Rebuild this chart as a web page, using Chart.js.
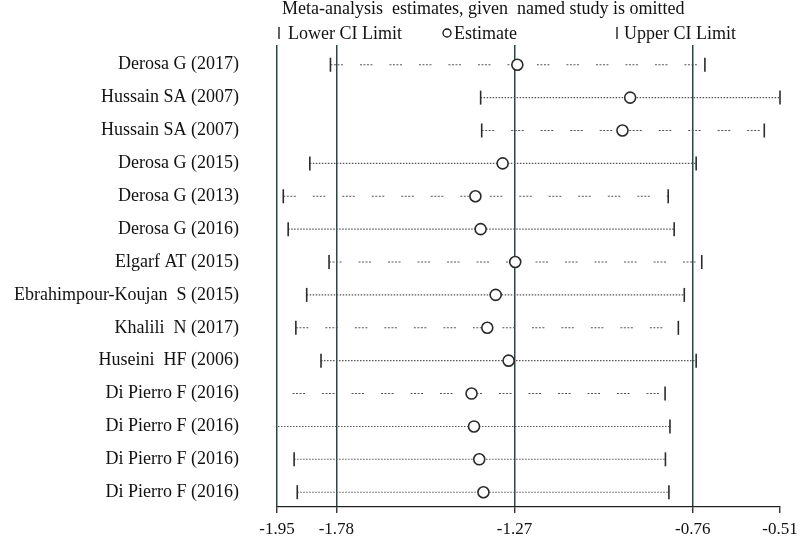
<!DOCTYPE html>
<html>
<head>
<meta charset="utf-8">
<script src="https://cdn.jsdelivr.net/npm/chart.js@4/dist/chart.umd.min.js"></script>
<style>
  html, body { margin: 0; padding: 0; background: #fff; }
  #wrap { width: 800px; height: 536px; }
</style>
</head>
<body>
<div id="wrap"><canvas id="grafico"></canvas></div>
<script>
const studies = [
    "Derosa G (2017)", "Hussain SA (2007)", "Hussain SA (2007)", "Derosa G (2015)",
    "Derosa G (2013)", "Derosa G (2016)", "Elgarf AT (2015)", "Ebrahimpour-Koujan  S (2015)",
    "Khalili  N (2017)", "Huseini  HF (2006)", "Di Pierro F (2016)", "Di Pierro F (2016)",
    "Di Pierro F (2016)", "Di Pierro F (2016)"
];
const lowerCI   = [-1.797, -1.367, -1.364, -1.856, -1.932, -1.918, -1.801, -1.865, -1.896, -1.824, -1.99, -1.99, -1.901, -1.892];
const estimates = [-1.262, -0.939, -0.961, -1.304, -1.382, -1.367, -1.268, -1.324, -1.348, -1.287, -1.393, -1.386, -1.371, -1.359];
const upperCI   = [-0.725, -0.510, -0.555, -0.750, -0.830, -0.813, -0.734, -0.784, -0.801, -0.750, -0.839, -0.825, -0.838, -0.828];
const xTicks = [-1.95, -1.78, -1.27, -0.76, -0.51];

const dashedRows = [0, 2, 4, 6, 8, 10];
const serif = "'Liberation Serif', 'DejaVu Serif', serif";

function construirDatasets() {
    const sets = [];
    // estimativas (desenhadas por cima)
    sets.push({
        type: 'scatter',
        data: estimates.map((v, i) => ({ x: v, y: i + 1 })),
        pointStyle: 'circle',
        pointRadius: 5.5,
        pointBorderWidth: 1.6,
        pointBorderColor: '#2b2b2b',
        pointBackgroundColor: '#ffffff',
        showLine: false
    });
    // marcas dos limites
    const marcas = [];
    for (let i = 0; i < studies.length; i++) {
        if (lowerCI[i] >= xTicks[0]) marcas.push({ x: lowerCI[i], y: i + 1 });
        marcas.push({ x: upperCI[i], y: i + 1 });
    }
    sets.push({
        type: 'scatter',
        data: marcas,
        pointStyle: 'line',
        rotation: 90,
        pointRadius: 7,
        pointBorderWidth: 1.6,
        pointBorderColor: '#2b2b2b',
        showLine: false,
        clip: 8
    });
    // linhas dos intervalos
    for (let i = 0; i < studies.length; i++) {
        const dashed = dashedRows.includes(i);
        sets.push({
            type: 'line',
            data: [{ x: lowerCI[i], y: i + 1 }, { x: upperCI[i], y: i + 1 }],
            borderColor: '#555555',
            borderWidth: 1.1,
            borderDash: dashed ? [2, 1.5, 2, 1.5, 2, 1.5, 2, 17] : [1.5, 1.5],
            pointRadius: 0,
            fill: false
        });
    }
    return sets;
}

const textoTopo = {
    id: 'textoTopo',
    afterDraw(chart) {
        const ctx = chart.ctx;
        ctx.save();
        ctx.fillStyle = '#111';
        ctx.font = "18px " + serif;
        ctx.textBaseline = 'alphabetic';
        ctx.textAlign = 'left';
        ctx.fillText("Meta-analysis  estimates, given  named study is omitted", 282, 14);
        ctx.fillText("Lower CI Limit", 288, 39);
        ctx.fillText("Estimate", 454, 39);
        ctx.fillText("Upper CI Limit", 624, 39);
        ctx.strokeStyle = '#111';
        ctx.lineWidth = 1.3;
        ctx.beginPath();
        ctx.moveTo(279, 27); ctx.lineTo(279, 39);
        ctx.moveTo(617, 27); ctx.lineTo(617, 39);
        ctx.stroke();
        ctx.beginPath();
        ctx.arc(447, 33, 4, 0, Math.PI * 2);
        ctx.stroke();
        ctx.restore();
    }
};

window.addEventListener("DOMContentLoaded", () => {
    const ctx = document.getElementById('grafico').getContext('2d');
    new Chart(ctx, {
        type: 'scatter',
        data: { datasets: construirDatasets() },
        plugins: [textoTopo],
        options: {
            responsive: true,
            maintainAspectRatio: false,
            animation: false,
            layout: { autoPadding: false, padding: { top: 45, right: 20, left: 0, bottom: 0 } },
            plugins: {
                legend: { display: false },
                title: { display: false },
                tooltip: { enabled: false }
            },
            scales: {
                x: {
                    type: 'linear',
                    min: -1.95,
                    max: -0.51,
                    afterBuildTicks: (scale) => {
                        scale.ticks = xTicks.map(v => ({ value: v }));
                    },
                    afterFit: (scale) => {
                        scale.height = 29;
                        scale.paddingLeft = 0;
                        scale.paddingRight = 0;
                    },
                    border: { display: true, color: '#222', width: 1.3 },
                    grid: {
                        color: (c) => (c.tick && c.tick.value === -0.51) ? 'rgba(0,0,0,0)' : '#2f4545',
                        lineWidth: 1.5,
                        drawTicks: true,
                        tickLength: 6,
                        tickColor: '#222',
                        tickWidth: 1.3
                    },
                    ticks: {
                        color: '#111',
                        font: { family: serif, size: 17 },
                        padding: 6,
                        maxRotation: 0,
                        autoSkip: false,
                        callback: (v) => v.toFixed(2)
                    }
                },
                y: {
                    type: 'linear',
                    reverse: true,
                    min: 0.4,
                    max: 14.45,
                    afterBuildTicks: (scale) => {
                        scale.ticks = studies.map((s, i) => ({ value: i + 1 }));
                    },
                    afterFit: (scale) => { scale.width = 277; },
                    border: { display: false },
                    grid: {
                        display: true,
                        drawOnChartArea: false,
                        drawTicks: true,
                        tickLength: 36,
                        color: 'rgba(0,0,0,0)'
                    },
                    ticks: {
                        color: '#111',
                        font: { family: serif, size: 18 },
                        padding: 2,
                        autoSkip: false,
                        callback: (v) => studies[v - 1]
                    }
                }
            }
        }
    });
});
</script>
</body>
</html>
